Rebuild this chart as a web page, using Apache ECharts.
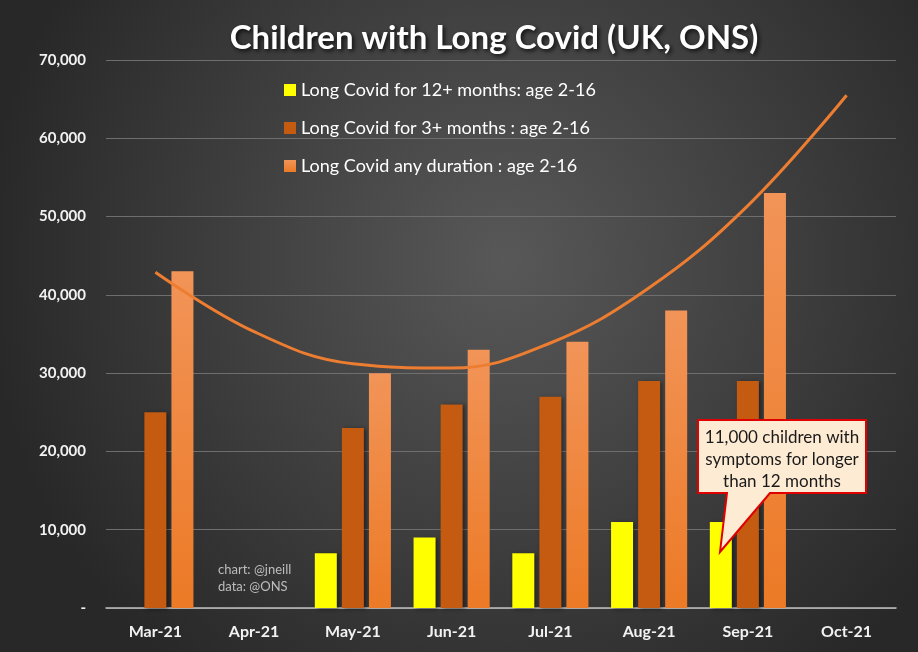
<!DOCTYPE html>
<html>
<head>
<meta charset="utf-8">
<script src="https://cdn.jsdelivr.net/npm/echarts@6/dist/echarts.min.js"></script>
<style>
  html, body { margin: 0; padding: 0; }
  #chart { width: 918px; height: 652px; }
</style>
</head>
<body>
<div id="chart"></div>
<script>
// data
const months = ['Mar-21', 'Apr-21', 'May-21', 'Jun-21', 'Jul-21', 'Aug-21', 'Sep-21', 'Oct-21'];
const over12Months = [null, null, 7000, 9000, 7000, 11000, 11000, null];
const over3Months = [25000, null, 23000, 26000, 27000, 29000, 29000, null];
const anyDuration = [43000, null, 30000, 33000, 34000, 38000, 53000, null];
// polynomial trend line as drawn on the chart
const trendLine = [42900, 35300, 31200, 30650, 33850, 40900, 51400, 65500];
const yTicks = [0, 10000, 20000, 30000, 40000, 50000, 60000, 70000];

const seriesNames = [
    'Long Covid for 12+ months: age 2-16',
    'Long Covid for 3+ months : age 2-16',
    'Long Covid any duration : age 2-16'
];

const chart = echarts.init(document.getElementById('chart'));

const barShadow = { shadowColor: 'rgba(0,0,0,0.45)', shadowBlur: 4, shadowOffsetX: 2, shadowOffsetY: 1 };

const option = {
    backgroundColor: new echarts.graphic.RadialGradient(0.55, 0.4, 0.8, [
        { offset: 0, color: '#585858' },
        { offset: 1, color: '#282828' }
    ]),
    textStyle: { fontFamily: 'Lato' },
    title: {
        text: 'Children with Long Covid (UK, ONS)',
        left: 489,
        textAlign: 'center',
        top: 17,
        textStyle: {
            color: '#ffffff',
            fontSize: 33,
            fontWeight: 'bold',
            fontFamily: 'Lato',
            textShadowColor: 'rgba(0,0,0,0.8)',
            textShadowBlur: 4,
            textShadowOffsetX: 2,
            textShadowOffsetY: 2
        }
    },
    legend: {
        data: seriesNames,
        orient: 'vertical',
        left: 279,
        top: 76,
        itemWidth: 12,
        itemHeight: 12,
        itemGap: 20,
        icon: 'rect',
        textStyle: { color: '#ffffff', fontSize: 18, fontFamily: 'Lato' }
    },
    grid: { left: 106, right: 22, top: 60, bottom: 44 },
    xAxis: {
        type: 'category',
        data: months,
        axisLine: { lineStyle: { color: '#bfbfbf', width: 1.5 } },
        axisTick: { length: 6, lineStyle: { color: '#bfbfbf', width: 1.5 } },
        axisLabel: { color: '#f2f2f2', fontSize: 16, fontWeight: 'bold', margin: 16 }
    },
    yAxis: {
        type: 'value',
        min: yTicks[0],
        max: yTicks[yTicks.length - 1],
        interval: yTicks[1] - yTicks[0],
        axisLine: { show: false },
        axisTick: { show: false },
        splitLine: { lineStyle: { color: '#6e6e6e', width: 1 } },
        axisLabel: {
            color: '#f2f2f2',
            fontSize: 15,
            fontWeight: 'bold',
            margin: 20,
            formatter: v => v === 0 ? '-' : v.toLocaleString('en-US')
        }
    },
    series: [
        {
            name: seriesNames[0],
            type: 'bar',
            data: over12Months,
            barWidth: 22,
            barGap: '23%',
            itemStyle: Object.assign({ color: '#ffff00' }, barShadow)
        },
        {
            name: seriesNames[1],
            type: 'bar',
            data: over3Months,
            barWidth: 22,
            barGap: '23%',
            itemStyle: Object.assign({ color: '#c55a11' }, barShadow)
        },
        {
            name: seriesNames[2],
            type: 'bar',
            data: anyDuration,
            barWidth: 22,
            barGap: '23%',
            itemStyle: Object.assign({
                color: new echarts.graphic.LinearGradient(0, 0, 0, 1, [
                    { offset: 0, color: '#f29458' },
                    { offset: 1, color: '#ec7a26' }
                ])
            }, barShadow)
        },
        {
            name: 'trend',
            type: 'line',
            data: trendLine,
            smooth: 0.4,
            showSymbol: false,
            z: 5,
            lineStyle: { color: '#ed7d31', width: 3 }
        }
    ],
    graphic: [
        {
            type: 'text',
            left: 218,
            top: 561,
            style: {
                text: 'chart: @jneill\ndata: @ONS',
                fill: '#bdbdbd',
                font: '13px Lato',
                lineHeight: 17
            }
        },
        {
            type: 'polygon',
            z: 20,
            shape: {
                points: [[698, 420], [866, 420], [866, 493], [770, 493], [720, 552], [727, 493], [698, 493]]
            },
            style: { fill: '#fdebd3', stroke: '#e00000', lineWidth: 2 }
        },
        {
            type: 'text',
            z: 21,
            x: 782,
            y: 460,
            style: {
                text: '11,000 children with\nsymptoms for longer\nthan 12 months',
                fill: '#1a1a1a',
                font: '17px Lato',
                lineHeight: 22,
                align: 'center',
                verticalAlign: 'middle'
            }
        }
    ]
};

chart.setOption(option);
</script>
</body>
</html>
